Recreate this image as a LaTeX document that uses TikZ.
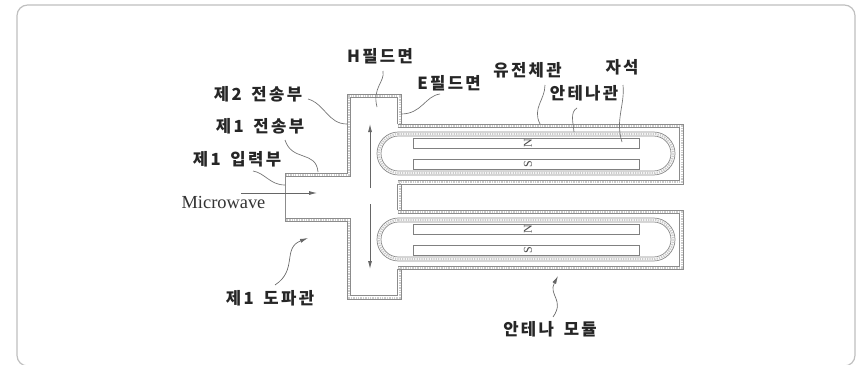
\documentclass[tikz,border=0pt]{standalone}
\usepackage{fontspec}
\setmainfont{Liberation Serif}
\newfontfamily\kr{Noto Sans CJK KR}[LetterSpace=14,WordSpace=1.6]
\usetikzlibrary{arrows.meta}
\tikzset{
  wall/.style={draw=black!45,line width=0.55pt},
  hatchline/.style={draw=black!20,line width=1.5pt,dash pattern=on 1pt off 0.8pt},
  thin lead/.style={draw=black!55,line width=0.5pt},
  label/.style={font=\kr\bfseries\fontsize{12.5pt}{14pt}\selectfont,text=black!85,inner sep=0pt},
  pole/.style={font=\fontsize{9pt}{10pt}\selectfont,text=black!70,inner sep=0pt,rotate=90},
  magnet/.style={draw=black!50,line width=0.8pt,fill=white},
  flow/.style={draw=black!60,line width=0.6pt,-{Latex[length=6pt,width=3pt]}},
  lead arrow/.style={draw=black!60,line width=0.5pt,-{Latex[length=6pt,width=3pt]}}
}
\begin{document}
\begin{tikzpicture}[x=0.75pt,y=-0.75pt]
\useasboundingbox (0,0) rectangle (863,364);
\fill[white] (0,0) rectangle (863,364);
\draw[draw=black!25,line width=0.9pt,rounded corners=8pt] (17,5) rectangle (855,366);
% waveguide walls
\path[hatchline] (285.5,174.5) -- (349,174.5) -- (349,95.5) -- (399.5,95.5) -- (399.5,125);
\path[hatchline] (399.5,181) -- (399.5,212);
\path[hatchline] (399.5,268) -- (399.5,297.5) -- (348.5,297.5) -- (348.5,220) -- (285.5,220);
\draw[wall] (285,221.5) -- (285,173) -- (347,173) -- (347,94) -- (401,94) -- (401,124);
\draw[wall] (285,221.5) -- (347,221.5) -- (347,299) -- (401,299) -- (401,269);
\draw[wall] (401,184) -- (401,210);
\draw[wall] (285,176) -- (350.5,176) -- (350.5,97.5) -- (397.5,97.5) -- (397.5,124);
\draw[wall] (285,218.5) -- (350.5,218.5) -- (350.5,295.5) -- (397.5,295.5) -- (397.5,269);
\draw[wall] (397.5,184) -- (397.5,210);
% upper module
\path[hatchline] (398,125.8) -- (681.5,125.8) -- (681.5,182) -- (398,182);
\draw[wall] (397.5,124) -- (683,124) -- (683,184) -- (397.5,184);
\draw[wall] (397.5,127.7) -- (679.7,127.7) -- (679.7,180.3) -- (397.5,180.3);
\draw[wall] (398.5,132) arc[start angle=-90,end angle=-270,radius=21.5] -- (653.5,175) arc[start angle=90,end angle=-90,radius=21.5] -- cycle;
\draw[wall] (398.5,136) arc[start angle=-90,end angle=-270,radius=17.5] -- (653.5,171) arc[start angle=90,end angle=-90,radius=17.5] -- cycle;
\path[hatchline,line width=1.6pt] (398.5,134) arc[start angle=-90,end angle=-270,radius=19.5] -- (653.5,173) arc[start angle=90,end angle=-90,radius=19.5] -- cycle;
\node[magnet,minimum width=169.5pt,minimum height=7.5pt,inner sep=0pt,anchor=north west] (m1) at (413,138) {};
\node[magnet,minimum width=169.5pt,minimum height=7.5pt,inner sep=0pt,anchor=north west] (m2) at (413,159) {};
\node[pole] (pN1) at (528,143) {N};
\node[pole] (pS1) at (528,164) {S};
% lower module
\path[hatchline] (398,211.5) -- (681.5,211.5) -- (681.5,267.5) -- (398,267.5);
\draw[wall] (397.5,210) -- (683,210) -- (683,269) -- (397.5,269);
\draw[wall] (397.5,213) -- (679.7,213) -- (679.7,266) -- (397.5,266);
\draw[wall] (398.5,218) arc[start angle=-90,end angle=-270,radius=21.5] -- (653.5,261) arc[start angle=90,end angle=-90,radius=21.5] -- cycle;
\draw[wall] (398.5,222) arc[start angle=-90,end angle=-270,radius=17.5] -- (653.5,257) arc[start angle=90,end angle=-90,radius=17.5] -- cycle;
\path[hatchline,line width=1.6pt] (398.5,220) arc[start angle=-90,end angle=-270,radius=19.5] -- (653.5,259) arc[start angle=90,end angle=-90,radius=19.5] -- cycle;
\node[magnet,minimum width=169.5pt,minimum height=7.5pt,inner sep=0pt,anchor=north west] (m3) at (413,224) {};
\node[magnet,minimum width=169.5pt,minimum height=7.5pt,inner sep=0pt,anchor=north west] (m4) at (413,245) {};
\node[pole] (pN2) at (528,229) {N};
\node[pole] (pS2) at (528,250) {S};
% flow arrows
\coordinate (upS) at (370,188); \coordinate (upE) at (370,124);
\coordinate (dnS) at (370,204); \coordinate (dnE) at (370,269);
\coordinate (inS) at (241,193); \coordinate (inE) at (317,193);
\draw[flow] (upS) -- (upE);
\draw[flow] (dnS) -- (dnE);
\draw[flow] (inS) -- (inE);
% labels
\node[label] (h) at (380,56) {H필드면};
\node[label] (e) at (449,83) {E필드면};
\node[label] (t2) at (258,94) {제2 전송부};
\node[label] (t1) at (260,126) {제1 전송부};
\node[label] (in1) at (237,159) {제1 입력부};
\node[label] (wg) at (270,298) {제1 도파관};
\node[label] (die) at (527.5,70) {유전체관};
\node[label] (ant) at (584,93) {안테나관};
\node[label] (mag) at (622,67) {자석};
\node[label] (mod) at (550,329) {안테나 모듈};
\node[font=\fontsize{13.8pt}{15pt}\selectfont,text=black!80,inner sep=0pt] (mw) at (223.5,202) {Microwave};
% leaders
\coordinate (c1) at (377,107);
\coordinate (c2) at (401,114);
\coordinate (c3) at (347,124);
\coordinate (c4) at (318,172);
\coordinate (c5) at (285,185);
\coordinate (c6) at (540,124);
\coordinate (c7) at (574,132);
\coordinate (c8) at (622,142);
\coordinate (c9) at (308,238);
\coordinate (c10) at (558,276);
\draw[thin lead] (383,71) .. controls (385,82) and (372,88) .. (c1);
\draw[thin lead] (440,94) .. controls (425,96) and (422,114) .. (c2);
\draw[thin lead] (308,99) .. controls (325,104) and (328,124) .. (c3);
\draw[thin lead] (285,140) .. controls (292,162) and (316,150) .. (c4);
\draw[thin lead] (253,171) .. controls (265,173) and (270,185) .. (c5);
\draw[thin lead] (545,85) .. controls (545,100) and (532,108) .. (c6);
\draw[thin lead] (577,108) .. controls (570,112) and (573,122) .. (c7);
\draw[thin lead] (623,85) .. controls (625,105) and (615,120) .. (c8);
\draw[lead arrow] (275,285) .. controls (298,270) and (282,248) .. (c9);
\draw[lead arrow] (553,317) .. controls (565,300) and (548,295) .. (c10);
\end{tikzpicture}
\end{document}
